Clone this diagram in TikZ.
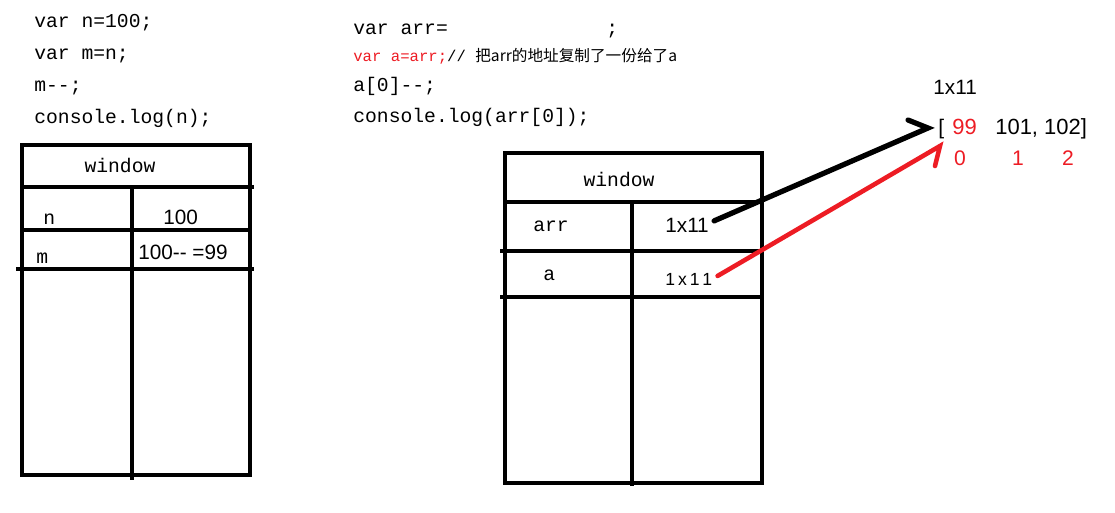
\documentclass[tikz,border=0pt]{standalone}
\usepackage{fontspec}
\setmainfont{Liberation Mono}
\newfontfamily\numfont{Liberation Sans}
\newfontfamily\cjk{Noto Sans CJK SC}
\usetikzlibrary{calc}
\definecolor{penred}{RGB}{237,28,36}
\tikzset{
	frame/.style={line width=2.8pt},
	code/.style={anchor=base west, inner sep=0pt, font=\fontsize{11.2}{13}\selectfont},
	cell/.style={anchor=base west, inner sep=0pt, font=\fontsize{11.2}{13}\selectfont},
	val/.style={anchor=base west, inner sep=0pt, font=\numfont\fontsize{11.8}{14}\selectfont},
	idx/.style={anchor=base, inner sep=0pt, text=penred, font=\numfont\fontsize{12}{14}\selectfont},
	pointer/.style={line width=3pt, line cap=round, line join=miter},
}

\begin{document}
\begin{tikzpicture}[x=0.02cm, y=-0.02cm]
		%%%%% START %%%%%
		\useasboundingbox (0,0) rectangle (1115,513);
		
		% left code
		\node[code] (ln1) at (34, 28) {var n=100;};
		\node[code] (ln2) at (34, 60) {var m=n;};
		\node[code] (ln3) at (34, 92) {m-{}-;};
		\node[code] (ln4) at (34, 124) {console.log(n);};
		
		% left window
		\draw[frame] (22, 145) rectangle (250, 475);
		\draw[frame] (22, 187) -- (254, 187);
		\draw[frame] (132, 187) -- (132, 480);
		\draw[frame] (22, 230) -- (250, 230);
		\draw[frame] (16, 269) -- (254, 269);
		
		\node[cell, anchor=base] (lwin) at (120, 173) {window};
		\node[cell] (nname) at (43, 225) {n};
		\node[val] (nval) at (163, 225) {100};
		\node[cell] (mname) at (36, 263) {m};
		\node[val] (mval) at (138, 259) {100-{}-{} =99};
		
		% right code
		\node[code] (rn1) at (353, 35) {var arr=};
		\node[code] (rsemi) at (606, 35) {;};
		\node[code, font=\fontsize{8.9}{11}\selectfont] (rn2) at (353, 62)
			{\textcolor{penred}{var a=arr;}// {\cjk 把arr的地址复制了一份给了a}};
		\node[code] (rn3) at (353, 92) {a[0]-{}-;};
		\node[code] (rn4) at (353, 123) {console.log(arr[0]);};
		
		% right window
		\draw[frame] (505, 153) rectangle (762, 483);
		\draw[frame] (505, 202) -- (762, 202);
		\draw[frame] (632, 202) -- (632, 486);
		\draw[frame] (500, 251) -- (762, 251);
		\draw[frame] (500, 297) -- (762, 297);
		
		\node[cell, anchor=base] (rwin) at (619, 187) {window};
		\node[cell] (arrname) at (533, 232) {arr};
		\node[val] (arrval) at (665, 233) {1x11};
		\node[cell] (aname) at (543, 280) {a};
		\node[val, font=\numfont\fontsize{10}{12}\selectfont] (aval) at (665, 285) {1\,x\,1\,1};
		
		% heap array
		\node[val] (addr) at (933, 95) {1x11};
		\node[val, font=\numfont\fontsize{12}{14}\selectfont] (brack) at (938, 135) {[};
		\node[val, text=penred, font=\numfont\fontsize{12.5}{14}\selectfont] (first) at (952, 135) {99};
		\node[val, font=\numfont\fontsize{12.5}{14}\selectfont] (rest) at (995, 135) {101, 102]};
		\node[idx] (i0) at (960, 166) {0};
		\node[idx] (i1) at (1018, 166) {1};
		\node[idx] (i2) at (1068, 166) {2};
		
		\coordinate (arrtip) at (928, 128);
		\coordinate (arrbarb) at (908, 120);
		\coordinate (atip) at (940, 146);
		\coordinate (abarb) at (935, 166);
		
		\draw[pointer] ($(arrval.east)+(5,-5)$) -- (arrtip) -- (arrbarb);
		\draw[pointer, color=penred, line width=2.6pt] ($(aval.east)+(5,-3)$) -- (atip) -- (abarb);
		
		%%%%% END %%%%%
	\end{tikzpicture}
\end{document}
